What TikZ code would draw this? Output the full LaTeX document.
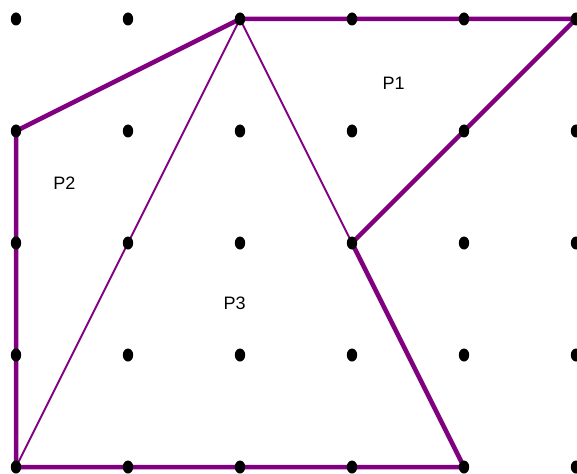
\documentclass[tikz,border=0pt]{standalone}
\usepackage{fontspec}
\setmainfont{Liberation Sans}
\definecolor{edgepurple}{RGB}{128,0,128}
\tikzset{
  thickedge/.style={draw=edgepurple, line width=4.5pt, line cap=round, line join=round},
  thinedge/.style={draw=edgepurple, line width=2pt, line cap=round},
  griddot/.style={fill=black, draw=none},
  plabel/.style={anchor=base, inner sep=0pt, font=\fontsize{18}{18}\selectfont}
}
\begin{document}
\begin{tikzpicture}[x=1pt,y=-1pt]
\useasboundingbox (0,0) rectangle (577,473);
% vertices
\coordinate (A) at (240,19);
\coordinate (B) at (576,19);
\coordinate (C) at (352,243);
\coordinate (D) at (464,467);
\coordinate (E) at (16,467);
\coordinate (F) at (16,131);
% thin diagonals
\draw[thinedge] (A) -- (C);
\draw[thinedge] (A) -- (E);
% thick boundary
\draw[thickedge] (A) -- (B) -- (C) -- (D) -- (E) -- (F) -- cycle;
% grid dots
\foreach \i in {0,...,5} {
  \foreach \j in {0,...,4} {
    \fill[griddot] (16+112*\i,19+112*\j) ellipse [x radius=5.2pt, y radius=6.5pt];
  }
}
% labels
\node[plabel] (p1) at (393.7,89.3) {P1};
\node[plabel] (p2) at (64.3,189.3) {P2};
\node[plabel] (p3) at (234.7,309.3) {P3};
\end{tikzpicture}
\end{document}
